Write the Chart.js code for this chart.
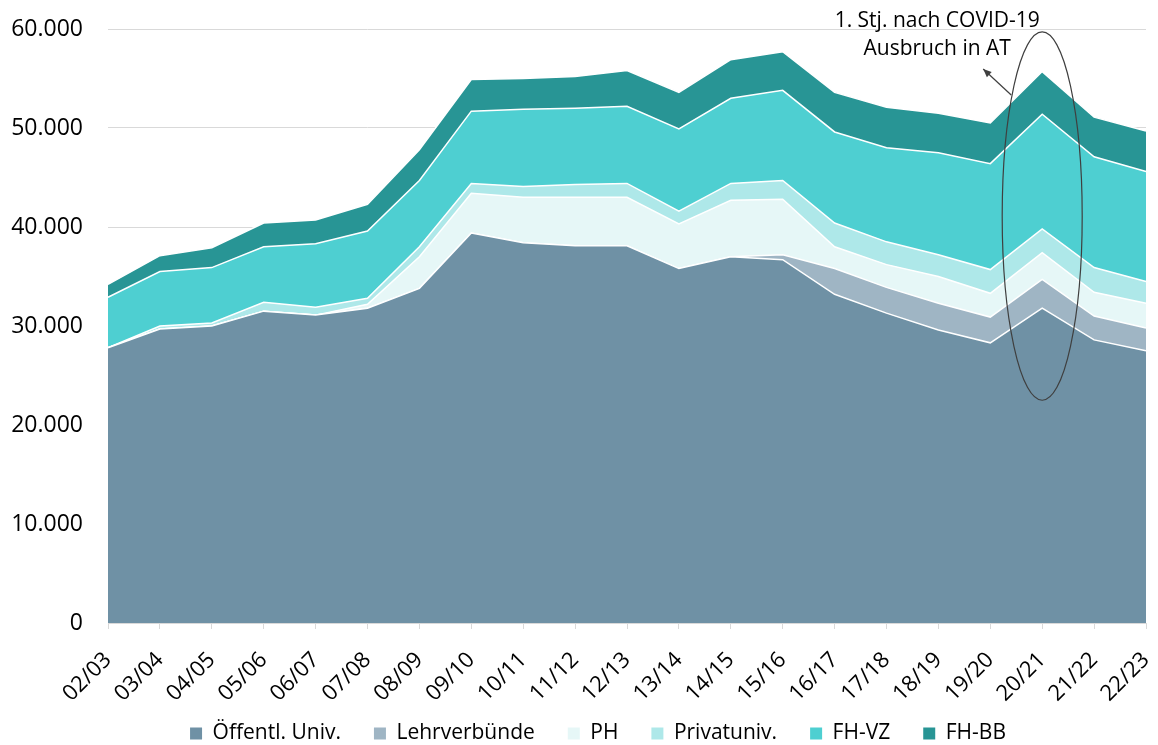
<!DOCTYPE html>
<html>
<head>
  <meta charset="UTF-8">
  <title>Studierende nach Hochschulsektor</title>
  <style>
    body {
      margin: 0;
      background: #fff;
    }
    .wrap {
      width: 1158px;
      height: 745px;
    }
  </style>
</head>
<body>
  <div class="wrap">
    <canvas id="areaChart"></canvas>
  </div>

  <script src="https://cdn.jsdelivr.net/npm/chart.js"></script>
  <script>
    const years = ["02/03", "03/04", "04/05", "05/06", "06/07", "07/08", "08/09", "09/10", "10/11", "11/12",
      "12/13", "13/14", "14/15", "15/16", "16/17", "17/18", "18/19", "19/20", "20/21", "21/22", "22/23"];

    // Werte in Tausend
    const oeffUniv = [27.8, 29.7, 30.0, 31.5, 31.1, 31.8, 33.8, 39.4, 38.4, 38.1, 38.1, 35.8, 37.0, 36.7, 33.2, 31.3, 29.6, 28.3, 31.8, 28.6, 27.5];
    const lehrverbuende = [0, 0, 0, 0, 0, 0, 0, 0, 0, 0, 0, 0, 0, 0.5, 2.6, 2.6, 2.7, 2.6, 2.9, 2.4, 2.3];
    const ph = [0, 0, 0, 0, 0, 0.4, 3.2, 4.0, 4.6, 4.9, 4.9, 4.5, 5.7, 5.6, 2.2, 2.3, 2.7, 2.4, 2.7, 2.4, 2.5];
    const privatUniv = [0, 0.3, 0.3, 0.9, 0.8, 0.6, 1.0, 1.0, 1.1, 1.3, 1.4, 1.3, 1.7, 1.9, 2.4, 2.3, 2.2, 2.4, 2.4, 2.5, 2.2];
    const fhVZ = [5.1, 5.5, 5.6, 5.6, 6.4, 6.8, 6.7, 7.3, 7.8, 7.7, 7.8, 8.3, 8.6, 9.1, 9.2, 9.5, 10.3, 10.7, 11.6, 11.2, 11.1];
    const fhBB = [1.3, 1.6, 2.0, 2.4, 2.4, 2.7, 3.1, 3.2, 3.1, 3.2, 3.6, 3.7, 3.9, 3.9, 4.0, 4.1, 4.0, 4.1, 4.3, 4.0, 4.1];

    const yTicks = [0, 10000, 20000, 30000, 40000, 50000, 60000];

    const seriesNames = ["Öffentl. Univ.", "Lehrverbünde", "PH", "Privatuniv.", "FH-VZ", "FH-BB"];
    const seriesData = [oeffUniv, lehrverbuende, ph, privatUniv, fhVZ, fhBB];
    const seriesColors = ["#6f91a5", "#9fb5c4", "#e6f7f7", "#aee8e9", "#4ecfd1", "#289595"];

    const fontFamily = "'Open Sans', sans-serif";

    function formatNumber(v) {
      return String(v).replace(/\B(?=(\d{3})+(?!\d))/g, ".");
    }

    // Legende: wenig Platz im Layout, dann ans untere Ende schieben
    const legendFit = {
      id: "legendFit",
      afterInit(chart) {
        const legend = chart.legend;
        const fit = legend.fit;
        legend.fit = function () {
          fit.call(this);
          this.height = 22;
        };
      },
      afterLayout(chart) {
        const legend = chart.legend;
        legend.top = chart.height - 55;
        legend.bottom = chart.height;
        legend.height = 55;
        legend.left = 50;
        legend.right = chart.chartArea.right;
        legend.width = legend.right - legend.left;
      }
    };

    // Ellipse um 20/21 mit Pfeil und Beschriftung
    const covidNote = {
      id: "covidNote",
      afterDatasetsDraw(chart) {
        const ctx = chart.ctx;
        const x = chart.scales.x;
        const y = chart.scales.y;
        const cx = x.getPixelForValue(18);
        const top = y.getPixelForValue(59700);
        const bottom = y.getPixelForValue(22500);
        const cy = (top + bottom) / 2;
        const ry = (bottom - top) / 2;

        ctx.save();
        ctx.strokeStyle = "#3f3f3f";
        ctx.lineWidth = 1.2;
        ctx.beginPath();
        ctx.ellipse(cx, cy, 40, ry, 0, 0, Math.PI * 2);
        ctx.stroke();

        // Pfeil
        const x1 = cx - 31, y1 = top + 63;
        const x2 = cx - 59, y2 = top + 37;
        ctx.beginPath();
        ctx.moveTo(x1, y1);
        ctx.lineTo(x2, y2);
        ctx.stroke();
        const ang = Math.atan2(y2 - y1, x2 - x1);
        ctx.fillStyle = "#3f3f3f";
        ctx.beginPath();
        ctx.moveTo(x2, y2);
        ctx.lineTo(x2 - 9 * Math.cos(ang - 0.4), y2 - 9 * Math.sin(ang - 0.4));
        ctx.lineTo(x2 - 9 * Math.cos(ang + 0.4), y2 - 9 * Math.sin(ang + 0.4));
        ctx.closePath();
        ctx.fill();

        ctx.fillStyle = "#000";
        ctx.font = "21px " + fontFamily;
        ctx.textAlign = "center";
        ctx.textBaseline = "middle";
        ctx.fillText("1. Stj. nach COVID-19", cx - 105, top - 11);
        ctx.fillText("Ausbruch in AT", cx - 105, top + 17);
        ctx.restore();
      }
    };

    const datasets = seriesNames.map((name, i) => ({
      label: name,
      data: seriesData[i].map((v) => Math.round(v * 1000)),
      backgroundColor: seriesColors[i],
      borderColor: "#ffffff",
      borderWidth: 1.5,
      pointRadius: 0,
      tension: 0,
      fill: i === 0 ? "origin" : "-1",
    }));

    const ctx = document.getElementById("areaChart").getContext("2d");
    new Chart(ctx, {
      type: "line",
      data: {
        labels: years,
        datasets: datasets,
      },
      options: {
        responsive: true,
        maintainAspectRatio: false,
        animation: false,
        layout: {
          padding: { top: 29, right: 12, left: 0, bottom: 0 },
        },
        scales: {
          x: {
            offset: false,
            grid: {
              drawOnChartArea: false,
              drawTicks: true,
              tickLength: 6,
              color: "#d9d9d9",
            },
            border: { color: "#d9d9d9" },
            ticks: {
              color: "#000",
              font: { family: fontFamily, size: 22 },
              maxRotation: 45,
              minRotation: 45,
              autoSkip: false,
              padding: 18,
            },
            afterFit(scale) {
              scale.paddingLeft = 0;
              scale.paddingRight = 0;
              scale.height = 100;
            },
          },
          y: {
            stacked: true,
            min: 0,
            max: 60000,
            afterBuildTicks(axis) {
              axis.ticks = yTicks.map((v) => ({ value: v }));
            },
            afterFit(scale) {
              scale.width = 108;
              scale.paddingTop = 0;
              scale.paddingBottom = 0;
            },
            grid: {
              color: "#d9d9d9",
              drawTicks: false,
            },
            border: { display: false },
            ticks: {
              color: "#000",
              font: { family: fontFamily, size: 23 },
              padding: 25,
              callback: (v) => formatNumber(v),
            },
          },
        },
        plugins: {
          legend: {
            position: "bottom",
            labels: {
              color: "#000",
              font: { family: fontFamily, size: 21 },
              boxWidth: 12,
              boxHeight: 12,
              padding: 33,
              generateLabels(chart) {
                const items = Chart.defaults.plugins.legend.labels.generateLabels(chart);
                items.forEach((it) => {
                  it.lineWidth = 0;
                  it.strokeStyle = it.fillStyle;
                });
                return items;
              },
            },
          },
          tooltip: { enabled: false },
        },
      },
      plugins: [covidNote, legendFit],
    });
  </script>
</body>
</html>
